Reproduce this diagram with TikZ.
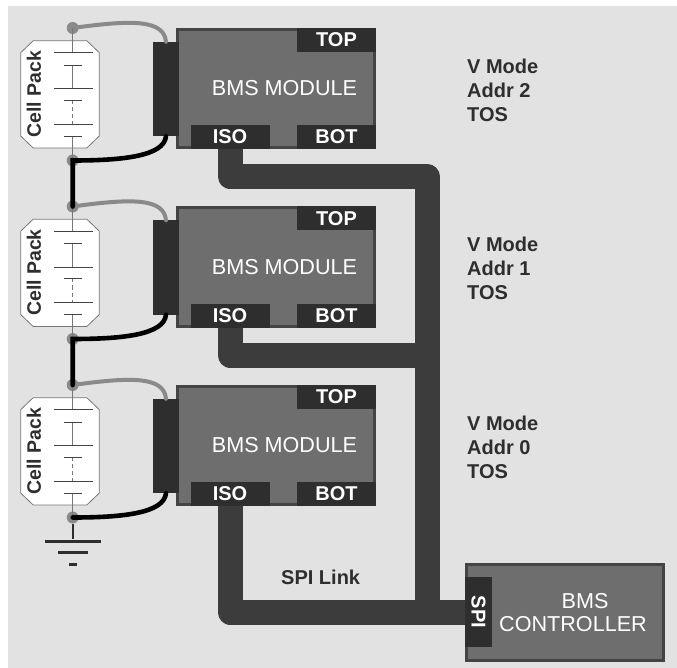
\documentclass[tikz,border=0pt]{standalone}
\usepackage{fontspec}
\setmainfont{Liberation Sans}
\definecolor{panel}{HTML}{E2E2E2}
\definecolor{body}{HTML}{6E6E6E}
\definecolor{rim}{HTML}{444444}
\definecolor{dark}{HTML}{2E2E2E}
\definecolor{link}{HTML}{3C3C3C}
\definecolor{wire}{HTML}{8A8A8A}
\definecolor{lead}{HTML}{777777}
\begin{document}
\begin{tikzpicture}[x=1pt, y=-1pt, node distance=178.5pt,
        module/.style = {draw=rim, fill=body, line width=3pt, inner sep=0pt, minimum width=197pt, minimum height=118pt},
        controller/.style = {draw=rim, fill=body, line width=3pt, inner sep=0pt, minimum width=197pt, minimum height=96pt},
        port/.style = {fill=dark, text=white, inner sep=0pt, minimum width=79pt, minimum height=24pt, font=\fontsize{20}{24}\bfseries\selectfont},
        plug/.style = {fill=dark, inner sep=0pt, minimum width=26pt, minimum height=94pt},
        modtext/.style = {text=white, inner sep=0pt, font=\fontsize{21.6}{26}\selectfont},
        note/.style = {text=dark, inner sep=0pt, anchor=west, align=left, font=\fontsize{20}{24}\bfseries\selectfont},
        packtext/.style = {text=dark, rotate=90, inner sep=0pt, font=\fontsize{19.5}{23}\bfseries\selectfont},
        term/.style = {circle, fill=wire, inner sep=0pt, minimum size=12pt},
        gndbar/.style = {fill=dark, inner sep=0pt, minimum height=3pt},
        bus/.style = {draw=link, line width=25pt, line join=round},
        sense/.style = {draw=wire, line width=4pt, line cap=round},
        stack/.style = {draw=black, line width=4.6pt, line cap=round},
        cells/.pic = {
            \draw[lead, fill=white, line width=0.8pt] (-39.5,12.7) -- (14.1,12.7) -- (26.6,24.7) -- (26.6,108) -- (14.1,120) -- (-39.5,120) -- (-52,108) -- (-52,24.7) -- cycle;
            \draw[lead, line width=1pt] (0,0) -- (0,24.7);
            \draw[lead, line width=1pt] (0,37) -- (0,60.7);
            \draw[lead, line width=1pt, dashed, dash pattern=on 4pt off 3pt] (0,72) -- (0,96.3);
            \draw[lead, line width=1pt] (0,108.3) -- (0,132.5);
            \draw[rim, line width=0.9pt] (-18.7,24.7) -- (20,24.7);
            \draw[rim, line width=0.9pt] (-9.2,37) -- (9.2,37);
            \draw[rim, line width=0.9pt] (-18.7,60.7) -- (20,60.7);
            \draw[rim, line width=0.9pt] (-9.2,72) -- (9.2,72);
            \draw[rim, line width=0.9pt] (-18.7,96.3) -- (20,96.3);
            \draw[rim, line width=0.9pt] (-9.2,108.3) -- (9.2,108.3);
        }]
    \useasboundingbox (0,0) rectangle (677,668);
    \fill[panel] (8,6) rectangle (677,668);

    % modules
    \node[module] (mod1) at (276,88.5) {};
    \node[module] (mod2) [below of=mod1] {};
    \node[module] (mod3) [below of=mod2] {};
    \node[modtext] (txt1) at (284.5,88.5) {BMS MODULE};
    \node[modtext] (txt2) [below of=txt1] {BMS MODULE};
    \node[modtext] (txt3) [below of=txt2] {BMS MODULE};
    \node[port] (top1) at (336.5,40) {TOP};
    \node[port] (top2) [below of=top1] {TOP};
    \node[port] (top3) [below of=top2] {TOP};
    \node[port] (iso1) at (230,137) {ISO};
    \node[port] (iso2) [below of=iso1] {ISO};
    \node[port] (iso3) [below of=iso2] {ISO};
    \node[port] (bot1) at (336.5,137) {BOT};
    \node[port] (bot2) [below of=bot1] {BOT};
    \node[port] (bot3) [below of=bot2] {BOT};
    \node[plug] (plug1) at (166,89) {};
    \node[plug] (plug2) [below of=plug1] {};
    \node[plug] (plug3) [below of=plug2] {};

    % cell packs
    \node[term] (pos1) at (72.7,28) {};
    \node[term] (pos2) [below of=pos1] {};
    \node[term] (pos3) [below of=pos2] {};
    \node[term] (neg1) at (72.7,160.5) {};
    \node[term] (neg2) [below of=neg1] {};
    \node[term] (neg3) [below of=neg2] {};
    \pic at (pos1) {cells};
    \pic at (pos2) {cells};
    \pic at (pos3) {cells};
    \node[packtext] (cell1) at (34,94) {Cell Pack};
    \node[packtext] (cell2) at (34,272.5) {Cell Pack};
    \node[packtext] (cell3) at (34,451) {Cell Pack};

    % ground
    \node[gndbar, minimum width=55.7pt] (gnd1) at (72.7,541) {};
    \node[gndbar, minimum width=29.7pt] (gnd2) at (72.7,552.7) {};
    \node[gndbar, minimum width=8pt] (gnd3) at (72.7,564.7) {};
    \draw[dark, line width=2pt] (neg3) -- (gnd1);

    % controller
    \node[controller] (ctrl) at (565,612.5) {};
    \node[port, rotate=-90, minimum width=70pt, minimum height=27pt] (spi) at (478.5,612) {SPI};
    \node[modtext] (ctrl1) at (585,601) {BMS};
    \node[modtext] (ctrl2) at (573,624) {CONTROLLER};

    % spi link
    \coordinate (bus1) at (427,176.5);
    \coordinate (bus2) at (427,355);
    \coordinate (bus3) at (427,612);
    \draw[bus] (iso1.south) |- (bus1) -- (bus3);
    \draw[bus] (iso2.south) |- (bus2);
    \draw[bus] (iso3.south) |- (spi.south);

    % wires
    \draw[sense] (pos1) .. controls +(60,-8) and +(-2,-22) .. (plug1.north);
    \draw[sense] (pos2) .. controls +(60,-8) and +(-2,-22) .. (plug2.north);
    \draw[sense] (pos3) .. controls +(60,-8) and +(-2,-22) .. (plug3.north);
    \draw[stack] (plug1.south) .. controls +(-2,20) and +(50,0) .. (neg1.center) -- (pos2.center);
    \draw[stack] (plug2.south) .. controls +(-2,20) and +(50,0) .. (neg2.center) -- (pos3.center);
    \draw[stack] (plug3.south) .. controls +(-2,20) and +(50,0) .. (neg3.center);

    % notes
    \node[note] (note1) at (467,90) {V Mode\\Addr 2\\TOS};
    \node[note] (note2) [below of=note1] {V Mode\\Addr 1\\TOS};
    \node[note] (note3) [below of=note2] {V Mode\\Addr 0\\TOS};
    \node[note] (spilink) at (281,577) {SPI Link};
\end{tikzpicture}
\end{document}
